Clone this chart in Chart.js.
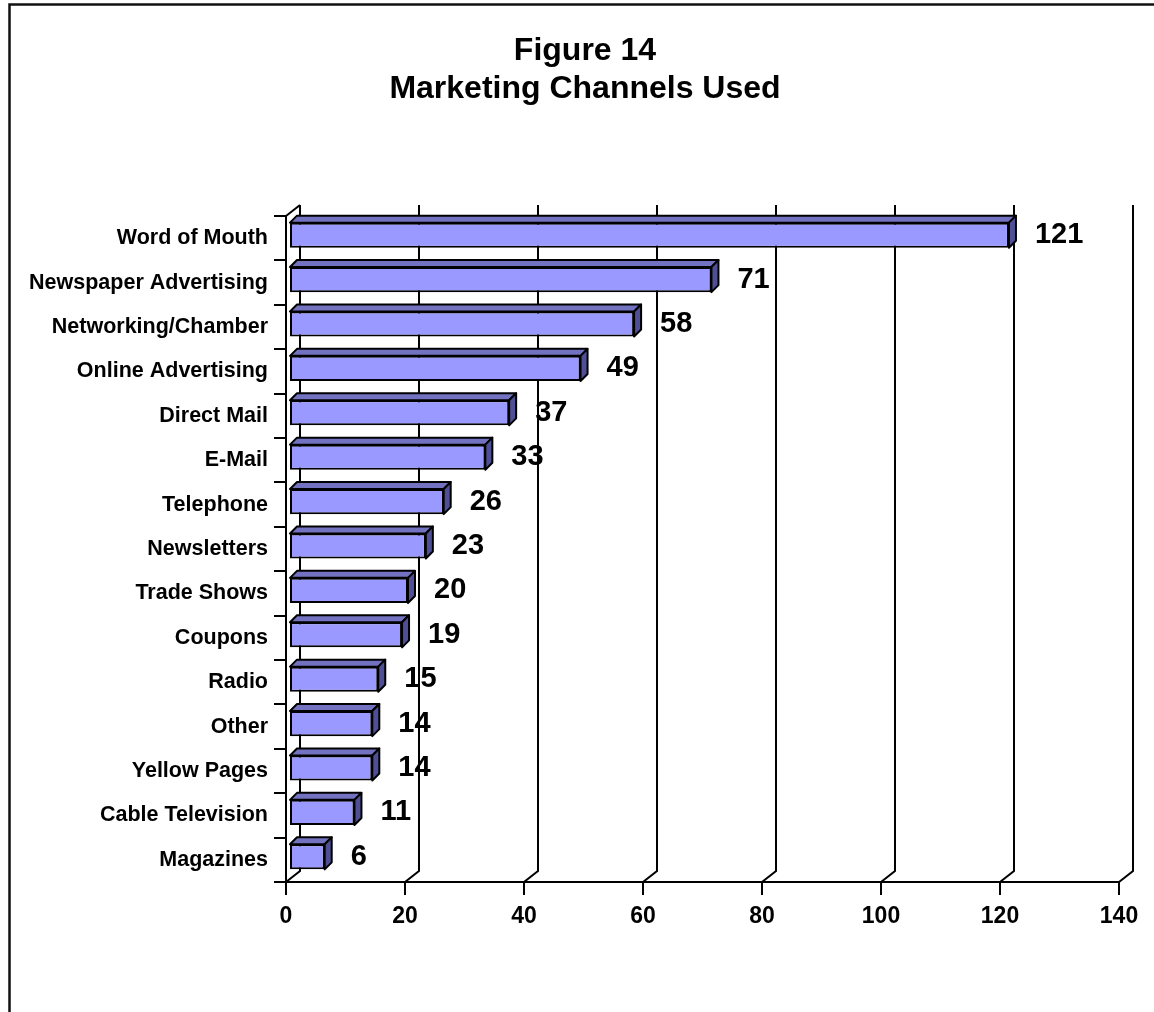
<!DOCTYPE html>
<html lang="en">
<head>
    <meta charset="UTF-8">
    <title>Figure 14 - Marketing Channels Used</title>
    <script src="https://cdn.jsdelivr.net/npm/chart.js"></script>
    <style>
        html, body { margin: 0; padding: 0; background: #fff; }
        #wrap { width: 1154px; height: 1012px; }
    </style>
</head>
<body>
    <div id="wrap"><canvas id="barChart"></canvas></div>

    <script>
        // data
        const channels = ['Word of Mouth', 'Newspaper Advertising', 'Networking/Chamber', 'Online Advertising',
            'Direct Mail', 'E-Mail', 'Telephone', 'Newsletters', 'Trade Shows', 'Coupons', 'Radio', 'Other',
            'Yellow Pages', 'Cable Television', 'Magazines'];
        const counts = [121, 71, 58, 49, 37, 33, 26, 23, 20, 19, 15, 14, 14, 11, 6];
        const xTicks = [0, 20, 40, 60, 80, 100, 120, 140];
        const titleLines = ['Figure 14', 'Marketing Channels Used'];

        // 3d look (pixels)
        const WALL_DX = 14, WALL_DY = 11;   // back wall offset
        const BAR_SHIFT = 3;                 // bars sit a bit behind the front plane
        const BAR_DEPTH = 7;                 // depth of each bar
        const FONT = '"Liberation Sans", Arial, sans-serif';

        Chart.defaults.color = '#000';
        Chart.defaults.font.family = FONT;

        const threeD = {
            id: 'threeD',
            beforeDraw(chart) {
                const c = chart.ctx;
                c.save();
                c.fillStyle = '#fff';
                c.fillRect(0, 0, chart.width, chart.height);
                // outer frame (only top + left are inside the picture)
                c.strokeStyle = '#111';
                c.lineWidth = 2.5;
                c.beginPath();
                c.moveTo(9.5, chart.height + 5);
                c.lineTo(9.5, 4.5);
                c.lineTo(chart.width + 5, 4.5);
                c.stroke();
                // title, centred on the frame rather than the plot
                c.fillStyle = '#000';
                c.font = 'bold 32px ' + FONT;
                c.textAlign = 'center';
                c.textBaseline = 'middle';
                titleLines.forEach((t, i) => c.fillText(t, 585, 51 + i * 38));
                c.restore();
            },
            beforeDatasetsDraw(chart) {
                const c = chart.ctx, a = chart.chartArea, xs = chart.scales.x;
                c.save();
                c.strokeStyle = '#000';
                c.lineWidth = 2;
                c.beginPath();
                xs.ticks.forEach(t => {
                    const px = xs.getPixelForValue(t.value);
                    c.moveTo(px, a.bottom);
                    c.lineTo(px + WALL_DX, a.bottom - WALL_DY);
                    c.lineTo(px + WALL_DX, a.top - WALL_DY);
                });
                c.moveTo(a.left, a.top);
                c.lineTo(a.left + WALL_DX, a.top - WALL_DY);
                c.stroke();
                c.restore();
                // shift the front faces back a little
                c.save();
                c.translate(BAR_SHIFT, -BAR_SHIFT);
            },
            afterDatasetsDraw(chart) {
                const c = chart.ctx;
                c.restore();
                const meta = chart.getDatasetMeta(0);
                const vals = chart.data.datasets[0].data;
                c.save();
                c.strokeStyle = '#000';
                c.lineWidth = 2;
                c.lineJoin = 'round';
                meta.data.forEach(el => {
                    const p = el.getProps(['x', 'y', 'base', 'height'], true);
                    const x0 = p.base + BAR_SHIFT, x1 = p.x + BAR_SHIFT;
                    const yt = p.y - p.height / 2 - BAR_SHIFT, yb = p.y + p.height / 2 - BAR_SHIFT;
                    const d = BAR_DEPTH;
                    // top
                    c.fillStyle = '#7272C0';
                    c.beginPath();
                    c.moveTo(x0, yt); c.lineTo(x1, yt); c.lineTo(x1 + d, yt - d); c.lineTo(x0 + d, yt - d);
                    c.closePath(); c.fill(); c.stroke();
                    // right side
                    c.fillStyle = '#4F4F96';
                    c.beginPath();
                    c.moveTo(x1, yt); c.lineTo(x1 + d, yt - d); c.lineTo(x1 + d, yb - d); c.lineTo(x1, yb);
                    c.closePath(); c.fill(); c.stroke();
                });
                // value labels
                c.fillStyle = '#000';
                c.font = 'bold 29px ' + FONT;
                c.textAlign = 'left';
                c.textBaseline = 'middle';
                meta.data.forEach((el, i) => {
                    const p = el.getProps(['x', 'y'], true);
                    c.fillText(String(vals[i]), p.x + 29, p.y - 3);
                });
                c.restore();
            }
        };

        const ctx = document.getElementById('barChart').getContext('2d');
        const chart = new Chart(ctx, {
            type: 'bar',
            data: {
                labels: channels,
                datasets: [{
                    data: counts,
                    backgroundColor: '#9999FF',
                    borderColor: '#000',
                    borderWidth: 2,
                    borderSkipped: false,
                    categoryPercentage: 1,
                    barPercentage: 0.565
                }]
            },
            options: {
                indexAxis: 'y',
                responsive: true,
                maintainAspectRatio: false,
                animation: false,
                layout: { padding: { left: 0, right: 35, top: 216, bottom: 0 } },
                plugins: {
                    legend: { display: false },
                    tooltip: { enabled: false },
                    title: { display: false }
                },
                scales: {
                    x: {
                        min: 0,
                        max: 140,
                        afterBuildTicks(scale) { scale.ticks = xTicks.map(v => ({ value: v })); },
                        afterFit(scale) { scale.height = 130; },
                        grid: { drawOnChartArea: false, drawTicks: true, tickLength: 13, color: '#000', lineWidth: 2 },
                        border: { display: true, color: '#000', width: 2 },
                        ticks: { padding: 8, color: '#000', font: { size: 23, weight: 'bold' }, maxRotation: 0 }
                    },
                    y: {
                        afterFit(scale) { scale.width = 286; },
                        grid: { offset: true, drawOnChartArea: false, drawTicks: true, tickLength: 12, color: '#000', lineWidth: 2 },
                        border: { display: true, color: '#000', width: 2 },
                        ticks: { autoSkip: false, padding: 6, color: '#000', font: { size: 21.5, weight: 'bold' } }
                    }
                }
            },
            plugins: [threeD]
        });
    </script>
</body>
</html>
